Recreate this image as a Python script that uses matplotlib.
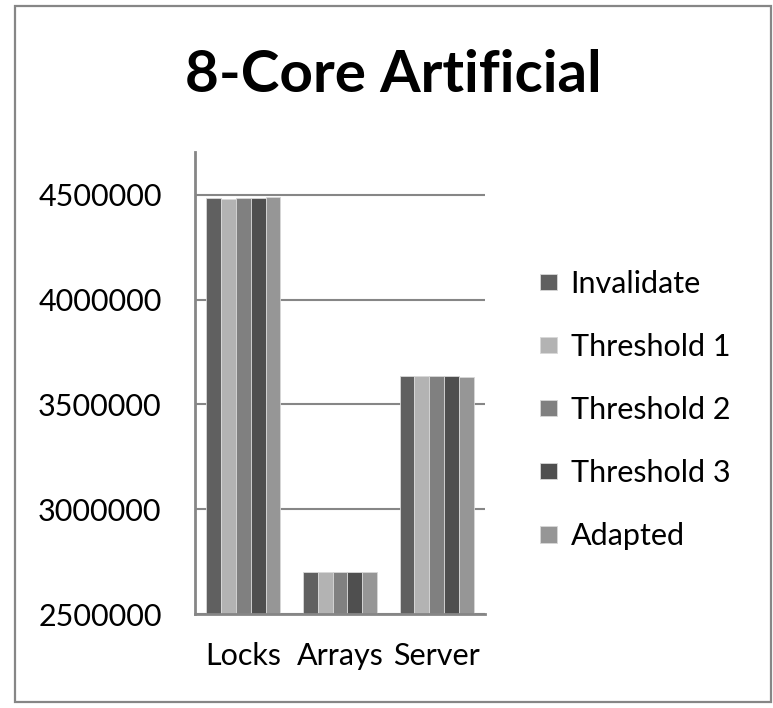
import matplotlib
matplotlib.use("Agg")
import matplotlib.pyplot as plt
import matplotlib.patches as mpatches
import numpy as np

plt.rcParams["font.family"] = ["Lato", "DejaVu Sans"]

# --------------------------------------------------------------------------- #
#  数据
# --------------------------------------------------------------------------- #

categories = ["Locks", "Arrays", "Server"]
series_names = ["Invalidate", "Threshold 1", "Threshold 2", "Threshold 3", "Adapted"]

invalidate = [4486000, 2698000, 3637000]
threshold_1 = [4481000, 2698000, 3634000]
threshold_2 = [4486000, 2698000, 3637000]
threshold_3 = [4486000, 2698000, 3637000]
adapted = [4491000, 2698000, 3633000]

y_ticks = [2500000, 3000000, 3500000, 4000000, 4500000]

colors = ["#606060", "#b3b3b3", "#808080", "#4f4f4f", "#969696"]
grid_color = "#868686"

# --------------------------------------------------------------------------- #
#  绘图
# --------------------------------------------------------------------------- #

fig = plt.figure(figsize=(7.73, 7.08), dpi=100)
ax = fig.add_axes([195 / 773, 94 / 708, 290 / 773, 462 / 708])

all_series = [invalidate, threshold_1, threshold_2, threshold_3, adapted]
x = np.arange(len(categories))
width = 0.153
for k, (name, vals, c) in enumerate(zip(series_names, all_series, colors)):
    offset = (k - 2) * width
    ax.bar(x + offset, vals, width, color=c, label=name,
           edgecolor="#d8d8d8", linewidth=0.6, zorder=3)

ax.set_xlim(-0.5, 2.5)
ax.set_ylim(2500000, 4704000)
ax.set_yticks(y_ticks)
ax.set_yticklabels([str(v) for v in y_ticks], fontsize=22)
ax.set_xticks(x)
ax.set_xticklabels(categories, fontsize=22)
ax.tick_params(axis="both", length=0)
ax.tick_params(axis="y", pad=24)
ax.tick_params(axis="x", pad=20)

ax.grid(axis="y", color=grid_color, linewidth=1.5, zorder=0)
for side in ["top", "right"]:
    ax.spines[side].set_visible(False)
for side in ["left", "bottom"]:
    ax.spines[side].set_color(grid_color)
    ax.spines[side].set_linewidth(2.0)
    ax.spines[side].set_zorder(4)

fig.text(393 / 773, 1 - 76 / 708, "8-Core Artificial", fontsize=42,
         fontweight="bold", ha="center", va="center")

fig.legend(loc="center left", bbox_to_anchor=(540 / 773, 1 - 410 / 708),
           frameon=False, fontsize=22, handlelength=0.55, handleheight=0.45,
           handletextpad=0.45, labelspacing=1.15, borderpad=0, borderaxespad=0)

# 外框
fig.patches.append(mpatches.Rectangle(
    (15 / 773, 1 - 702 / 708), 756 / 773, 696 / 708,
    transform=fig.transFigure, fill=False, edgecolor=grid_color, linewidth=1.6))

fig.savefig("out.png", dpi=100)
